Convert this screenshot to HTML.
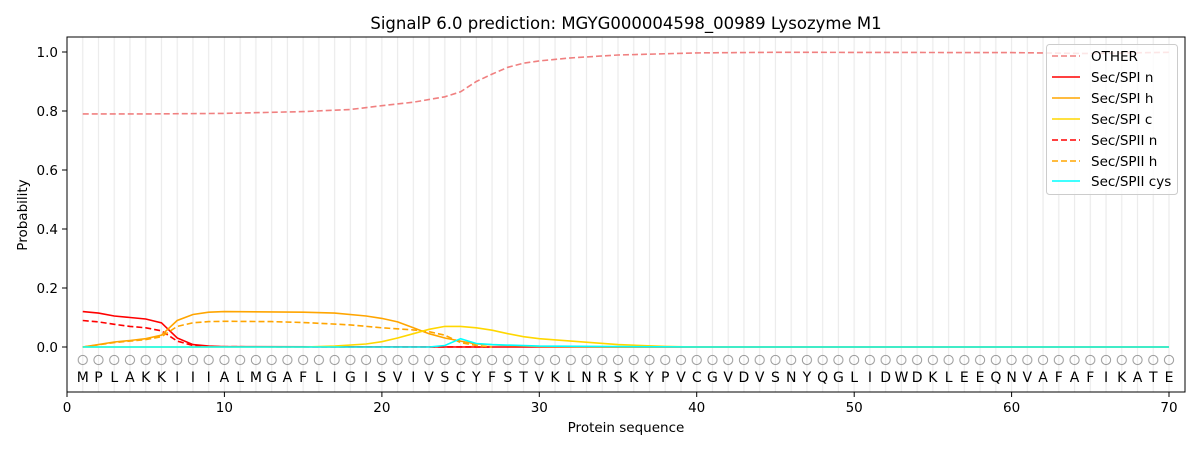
<!DOCTYPE html>
<html><head><meta charset="utf-8"><style>body{margin:0;background:#fff}svg{display:block;font-family:"DejaVu Sans","Liberation Sans",sans-serif}</style></head>
<body>
<svg width="1200" height="450" viewBox="0 0 1200 450" xmlns="http://www.w3.org/2000/svg">
<defs>
<pattern id="g" x="74.87" y="0" width="15.743" height="450" patternUnits="userSpaceOnUse">
<line x1="7.87" y1="0" x2="7.87" y2="450" stroke="#ebebeb" stroke-width="1.2"/>
</pattern>
<pattern id="c" x="74.87" y="352" width="15.743" height="16" patternUnits="userSpaceOnUse">
<circle cx="7.87" cy="8" r="4.6" fill="none" stroke="#999" stroke-width="1"/>
</pattern>
</defs>
<rect x="75" y="37" width="1100" height="355" fill="url(#g)"/>
<rect x="75" y="352" width="1100" height="16" fill="url(#c)"/>
<text x="626" y="29" font-size="16.5" text-anchor="middle">SignalP 6.0 prediction: MGYG000004598_00989 Lysozyme M1</text>
<g fill="none" stroke-width="1.6">
<polyline stroke="#f08080" stroke-dasharray="6,3" points="82.74,113.95 145.72,113.95 224.43,113.4 303.15,111.6 350.37,109.5 381.86,105.7 413.35,102.2 444.83,96.8 460.58,91.8 476.32,81.5 492.06,74.1 507.8,67.3 523.55,63.2 539.29,60.9 570.78,57.9 618.01,55 696.72,52.9 775.44,52.3 1011.58,52.6 1090.3,53.5 1169.01,52.3"/>
<polyline stroke="#ff0000" points="82.74,311.6 98.49,313.1 114.23,316 129.97,317.5 145.72,319 161.46,322.8 177.2,338 192.94,344.6 208.69,346.1 224.43,346.7 476.32,347 1169.01,347"/>
<polyline stroke="#ff0000" stroke-dasharray="6,3" points="82.74,320.5 98.49,321.9 114.23,324.3 129.97,326.4 145.72,327.8 161.46,330.8 177.2,341.1 192.94,345.5 208.69,346.7 492.06,347"/>
<polyline stroke="#ffa500" points="82.74,347 98.49,344.6 114.23,342 129.97,340.5 145.72,338.7 161.46,335.2 177.2,320.5 192.94,314.5 208.69,312.2 224.43,311.6 303.15,312.2 334.63,313.1 366.12,316 381.86,318.4 397.6,321.9 413.35,327.8 429.09,333.7 444.83,338 460.58,341.1 476.32,344 507.8,345.5 539.29,346.4 618.01,347 1169.01,347"/>
<polyline stroke="#ffa500" stroke-dasharray="6,3" points="82.74,347 114.23,342.6 145.72,339.6 161.46,336.7 177.2,326.4 192.94,322.8 208.69,321.6 224.43,321.3 271.66,321.6 303.15,322.5 350.37,324.9 381.86,327.8 413.35,329.9 429.09,331.7 444.83,335.2 460.58,342.6 476.32,345.5 492.06,347"/>
<polyline stroke="#ffd700" points="82.74,347 303.15,347 334.63,346.1 366.12,344 381.86,341.7 397.6,338 413.35,333.7 429.09,329.3 444.83,326.4 460.58,326.4 476.32,327.8 492.06,330.2 507.8,333.7 523.55,336.7 539.29,338.7 570.78,341.1 618.01,344.6 665.23,346.4 696.72,347 1169.01,347"/>
<polyline stroke="#00ffff" points="82.74,347 429.09,347 444.83,345.5 460.58,338.7 476.32,343.5 492.06,344.6 539.29,346.1 696.72,347 1169.01,347"/>
</g>
<rect x="67" y="37" width="1118" height="355" fill="none" stroke="#000" stroke-width="1"/>
<text font-size="14" text-anchor="middle" y="382" x="82.74 98.49 114.23 129.97 145.72 161.46 177.2 192.94 208.69 224.43 240.17 255.92 271.66 287.4 303.15 318.89 334.63 350.37 366.12 381.86 397.6 413.35 429.09 444.83 460.58 476.32 492.06 507.8 523.55 539.29 555.03 570.78 586.52 602.26 618.01 633.75 649.49 665.23 680.98 696.72 712.46 728.21 743.95 759.69 775.44 791.18 806.92 822.66 838.41 854.15 869.89 885.64 901.38 917.12 932.87 948.61 964.35 980.09 995.84 1011.58 1027.32 1043.07 1058.81 1074.55 1090.3 1106.04 1121.78 1137.52 1153.27 1169.01">MPLAKKIIIALMGAFLIGISVIVSCYFSTVKLNRSKYPVCGVDVSNYQGLIDWDKLEEQNVAFAFIKATE</text>
<g stroke="#000" stroke-width="1">
<line x1="67" y1="392" x2="67" y2="397"/><line x1="224.4" y1="392" x2="224.4" y2="397"/><line x1="381.9" y1="392" x2="381.9" y2="397"/><line x1="539.3" y1="392" x2="539.3" y2="397"/><line x1="696.7" y1="392" x2="696.7" y2="397"/><line x1="854.2" y1="392" x2="854.2" y2="397"/><line x1="1011.6" y1="392" x2="1011.6" y2="397"/><line x1="1169" y1="392" x2="1169" y2="397"/>
<line x1="62" y1="347" x2="67" y2="347"/><line x1="62" y1="288" x2="67" y2="288"/><line x1="62" y1="229" x2="67" y2="229"/><line x1="62" y1="170" x2="67" y2="170"/><line x1="62" y1="111" x2="67" y2="111"/><line x1="62" y1="52" x2="67" y2="52"/>
</g>
<g font-size="13.5" text-anchor="middle">
<text x="67" y="412">0</text><text x="224.4" y="412">10</text><text x="381.9" y="412">20</text><text x="539.3" y="412">30</text><text x="696.7" y="412">40</text><text x="854.2" y="412">50</text><text x="1011.6" y="412">60</text><text x="1169" y="412">70</text>
</g>
<g font-size="13.5" text-anchor="end">
<text x="58" y="352">0.0</text><text x="58" y="293">0.2</text><text x="58" y="234">0.4</text><text x="58" y="175">0.6</text><text x="58" y="116">0.8</text><text x="58" y="57">1.0</text>
</g>
<text x="626" y="432" font-size="13.5" text-anchor="middle">Protein sequence</text>
<text transform="translate(27,215) rotate(-90)" font-size="13.5" text-anchor="middle">Probability</text>
<rect x="1046.5" y="44.5" width="131" height="150" rx="3" fill="#fff" fill-opacity="0.8" stroke="#ccc"/>
<g stroke-width="1.6">
<line x1="1052" y1="56" x2="1080" y2="56" stroke="#f08080" stroke-dasharray="6,3"/>
<line x1="1052" y1="77" x2="1080" y2="77" stroke="#ff0000"/>
<line x1="1052" y1="98" x2="1080" y2="98" stroke="#ffa500"/>
<line x1="1052" y1="119" x2="1080" y2="119" stroke="#ffd700"/>
<line x1="1052" y1="140" x2="1080" y2="140" stroke="#ff0000" stroke-dasharray="6,3"/>
<line x1="1052" y1="161" x2="1080" y2="161" stroke="#ffa500" stroke-dasharray="6,3"/>
<line x1="1052" y1="181" x2="1080" y2="181" stroke="#00ffff"/>
</g>
<g font-size="13.5">
<text x="1091" y="61">OTHER</text><text x="1091" y="82">Sec/SPI n</text><text x="1091" y="103">Sec/SPI h</text><text x="1091" y="124">Sec/SPI c</text><text x="1091" y="145">Sec/SPII n</text><text x="1091" y="166">Sec/SPII h</text><text x="1091" y="186">Sec/SPII cys</text>
</g>
</svg>
</body></html>
